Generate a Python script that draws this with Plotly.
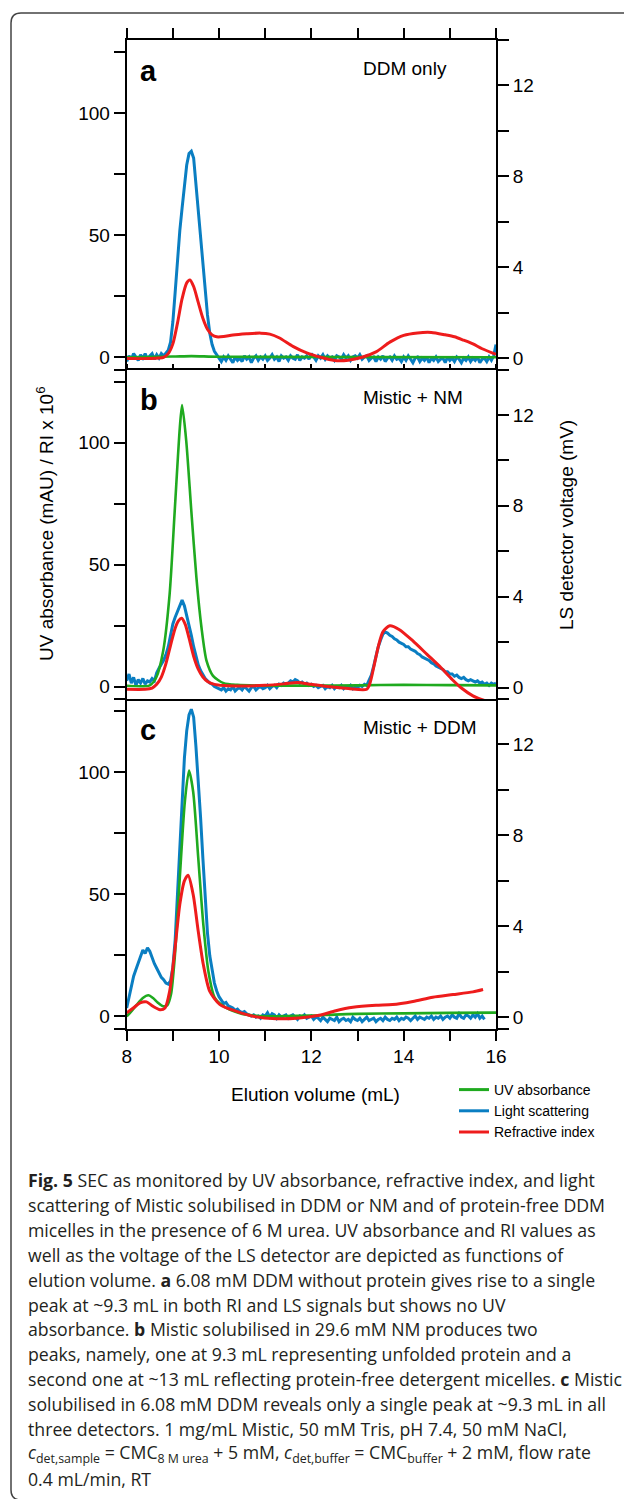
import numpy as np
import plotly.graph_objects as go

W, H = 624, 1499


def px(x):
    return x / W


def py(y):
    return 1 - y / H


# ---------------- axes / ticks ----------------
X_RANGE = [8, 16]
X_TICKS = [8, 10, 12, 14, 16]
X_MINOR = [9, 11, 13, 15]
UV_RANGE = [-5, 130]
UV_TICKS = [0, 50, 100]
UV_MINOR = [-5, 25, 75, 125]
LS_RANGE = [-0.5, 14]
LS_TICKS = [0, 4, 8, 12]
LS_MINOR = [-0.5, 2, 6, 10, 14]

SERIES_NAMES = ["UV absorbance", "Light scattering", "Refractive index"]
PANEL_LETTERS = ["a", "b", "c"]
PANEL_TITLES = ["DDM only", "Mistic + NM", "Mistic + DDM"]

# LS detector is sampled on a regular elution grid
LS_X0, LS_DX = 8.0, 0.05

# ---------------- panel a : DDM only ----------------
a_uv_x = [8.0, 9.0, 9.4, 10.0, 16.0]
a_uv_y = [0.0, 0.3, 0.5, 0.2, 0.0]
a_ri_x = [8.0, 8.5, 8.8, 8.9, 9.0, 9.1, 9.2, 9.3, 9.37, 9.45, 9.55, 9.65, 9.75,
          9.85, 9.95, 10.1, 10.3, 10.6, 10.9, 11.1, 11.3, 11.6, 11.9, 12.2, 12.5,
          12.8, 13.1, 13.4, 13.7, 14.0, 14.3, 14.6, 14.9, 15.1, 15.3, 15.5, 15.7, 16.0]
a_ri_y = [-0.5, -0.5, 0.0, 1.5, 5.5, 14, 24, 30.5, 31.7, 29, 22.5, 16, 11.5,
          9.2, 8.4, 8.5, 9.1, 9.6, 9.9, 9.5, 8.0, 4.5, 1.8, 0.0, -1.3,
          -1.2, 0.0, 2.2, 6.2, 9.0, 10.0, 10.2, 9.2, 8.4, 7.0, 5.5, 3.5, 1.2]
a_ls_y = [
    -0.15, 0.1, -0.05, 0.2, 0.05, -0.1, 0.15, 0.0, 0.2, -0.05,
    0.1, 0.2, -0.05, 0.15, 0.0, 0.2, 0.1, 0.25, 0.35, 0.7,
    1.6, 2.9, 4.4, 5.6, 6.6, 7.6, 8.5, 9.0, 9.1, 8.8,
    7.6, 6.4, 5.2, 4.0, 2.9, 1.9, 1.1, 0.6, 0.3, 0.15,
    0.0, -0.15, 0.05, -0.1, 0.1, -0.05, -0.2, 0.05, -0.1, 0.0,
    -0.15, 0.1, -0.05, 0.05, -0.2, 0.0, 0.1, -0.1, 0.05, -0.05,
    0.1, -0.1, 0.0, 0.15, -0.05, 0.05, -0.15, 0.1, 0.0, 0.05,
    -0.1, 0.1, 0.0, -0.05, 0.15, -0.1, 0.05, 0.0, 0.1, -0.05,
    0.2, 0.05, -0.1, 0.1, 0.0, 0.15, -0.05, 0.1, 0.0, 0.05,
    -0.1, 0.1, 0.05, -0.05, 0.15, 0.0, 0.1, -0.1, 0.05, 0.1,
    0.0, 0.15, -0.05, 0.05, 0.1, -0.1, 0.0, 0.05, -0.15, 0.05,
    -0.05, 0.1, -0.15, 0.0, 0.05, -0.1, 0.1, -0.05, 0.0, -0.15,
    0.05, -0.1, 0.1, -0.05, -0.2, 0.0, 0.05, -0.15, 0.0, -0.1,
    0.05, -0.2, 0.0, -0.1, 0.05, -0.15, -0.05, 0.0, -0.2, 0.05,
    -0.1, 0.0, -0.15, 0.05, -0.05, -0.2, 0.0, -0.1, 0.05, -0.15,
    0.0, -0.1, 0.05, -0.2, -0.05, 0.0, -0.15, 0.05, -0.1, 0.1,
    0.6]

# ---------------- panel b : Mistic + NM ----------------
b_uv_x = [8.0, 8.5, 8.64, 8.79, 8.93, 9.04, 9.15, 9.2, 9.29, 9.4, 9.51, 9.62,
          9.73, 9.87, 10.1, 10.4, 11.0, 12.0, 13.0, 14.0, 15.0, 16.0]
b_uv_y = [0.4, 0.6, 3.8, 14.7, 38, 72, 106, 115.4, 100.7, 72, 44.7, 24.3,
          10.6, 4.5, 1.5, 0.8, 0.5, 0.5, 0.6, 0.8, 0.7, 0.6]
b_ri_x = [8.0, 8.4, 8.55, 8.65, 8.75, 8.85, 8.95, 9.05, 9.12, 9.19, 9.27, 9.35,
          9.45, 9.55, 9.65, 9.75, 9.9, 10.1, 10.5, 11.0, 11.4, 11.7, 12.0, 12.4,
          12.8, 13.2, 13.27, 13.35, 13.45, 13.55, 13.7, 13.9, 14.2, 14.5, 14.8,
          15.05, 15.25, 15.5, 15.75, 16.0]
b_ri_y = [-1, -1, -0.5, 1.0, 4.0, 9.5, 17, 24, 27, 28.1, 25.5, 20,
          12.5, 7.2, 4.0, 2.2, 1.0, 0.5, 0.3, 0.6, 1.2, 1.8, 1.0, 0.0,
          -0.7, -1.0, 1.5, 7.9, 16.5, 22.5, 25, 23.5, 18.8, 13.4, 8.0,
          3.0, -0.5, -3.7, -5.6, -6.5]
b_ls_y = [
    0.3, 0.6, 0.2, 0.45, 0.1, 0.35, 0.2, 0.4, 0.15, 0.3,
    0.25, 0.4, 0.3, 0.65, 0.85, 1.0, 1.2, 1.45, 1.8, 2.3,
    2.8, 3.1, 3.35, 3.6, 3.85, 3.6, 3.2, 2.8, 2.3, 1.8,
    1.4, 1.0, 0.75, 0.55, 0.4, 0.3, 0.2, 0.15, 0.05, 0.0,
    -0.05, -0.1, 0.0, -0.15, -0.05, -0.1, 0.05, -0.15, -0.05, 0.0,
    -0.1, 0.05, -0.05, -0.15, 0.0, 0.05, -0.1, 0.0, 0.05, -0.05,
    0.0, 0.1, -0.05, 0.05, 0.1, 0.0, 0.15, 0.1, 0.2, 0.15,
    0.2, 0.3, 0.25, 0.35, 0.3, 0.2, 0.25, 0.15, 0.2, 0.1,
    0.15, 0.05, 0.1, 0.0, 0.05, 0.1, -0.05, 0.05, 0.0, 0.1,
    -0.05, 0.05, 0.0, 0.1, -0.05, 0.05, 0.0, 0.1, -0.05, 0.05,
    0.0, 0.1, 0.05, 0.15, 0.1, 0.3, 0.55, 0.95, 1.4, 1.8,
    2.1, 2.35, 2.45, 2.4, 2.3, 2.25, 2.15, 2.1, 2.0, 1.95,
    1.9, 1.8, 1.8, 1.7, 1.65, 1.6, 1.5, 1.45, 1.35, 1.3,
    1.25, 1.2, 1.1, 1.05, 0.95, 0.9, 0.85, 0.8, 0.7, 0.7,
    0.6, 0.6, 0.5, 0.55, 0.45, 0.4, 0.45, 0.35, 0.3, 0.35,
    0.3, 0.25, 0.3, 0.2, 0.25, 0.15, 0.2, 0.1, 0.2, 0.15,
    0.2]

# ---------------- panel c : Mistic + DDM ----------------
c_uv_x = [8.0, 8.1, 8.22, 8.35, 8.47, 8.57, 8.68, 8.79, 8.88, 8.96, 9.04, 9.15,
          9.26, 9.35, 9.44, 9.55, 9.66, 9.77, 9.91, 10.16, 10.5, 11.0, 12.0,
          12.5, 13.0, 14.0, 15.0, 16.0]
c_uv_y = [0.0, 2.0, 4.8, 7.5, 8.6, 7.5, 5.5, 4.1, 4.5, 9, 23.9, 56.7,
          88, 100.7, 92, 64.9, 37.6, 18.4, 7.5, 3.4, 1.0, 0.0, 0.3,
          0.7, 1.0, 1.2, 1.4, 1.5]
c_ri_x = [8.0, 8.15, 8.29, 8.43, 8.57, 8.72, 8.83, 8.93, 9.04, 9.15, 9.25, 9.33,
          9.44, 9.55, 9.66, 9.8, 10.02, 10.38, 10.74, 11.24, 11.74, 12.17, 12.53,
          12.9, 13.4, 13.76, 14.2, 14.63, 15.07, 15.5, 15.72]
c_ri_y = [1.4, 3.5, 5.5, 5.9, 4.1, 2.7, 3.4, 10.2, 26.6, 45.8, 55.5, 57.8,
          49.9, 34.8, 21.2, 10.2, 4.8, 2.0, 0.0, -1.0, -0.7, 0.4, 2.3,
          3.7, 4.5, 4.8, 6.1, 7.8, 8.9, 10.0, 11.0]
c_ls_y = [
    0.4, 0.9, 1.4, 1.8, 2.1, 2.4, 2.65, 2.95, 2.8, 3.05,
    2.9, 2.6, 2.35, 2.15, 1.95, 1.75, 1.65, 1.5, 1.45, 1.6,
    2.2, 3.4, 5.4, 7.6, 9.8, 11.4, 12.6, 13.3, 13.55, 13.2,
    11.9, 10.5, 8.8, 7.0, 5.2, 3.7, 2.7, 2.0, 1.5, 1.15,
    0.9, 0.75, 0.6, 0.65, 0.5, 0.45, 0.4, 0.3, 0.35, 0.25,
    0.2, 0.25, 0.15, 0.1, 0.05, 0.1, 0.0, 0.05, -0.05, 0.1,
    0.05, 0.2, 0.0, 0.15, 0.1, -0.05, 0.1, 0.0, 0.05, 0.1,
    -0.05, 0.05, 0.1, 0.0, -0.1, 0.05, 0.0, 0.1, -0.05, 0.0,
    0.05, -0.1, 0.0, -0.05, -0.15, 0.0, -0.1, -0.2, -0.05, -0.1,
    -0.15, 0.0, -0.2, -0.1, -0.05, -0.15, -0.1, -0.2, 0.0, -0.1,
    -0.15, -0.05, -0.2, -0.1, 0.0, -0.15, -0.1, -0.05, -0.2, -0.1,
    -0.05, -0.15, 0.0, -0.1, -0.15, -0.05, -0.1, 0.0, -0.15, -0.05,
    -0.1, 0.0, -0.05, -0.15, -0.05, 0.05, -0.1, 0.0, -0.05, -0.1,
    0.0, -0.05, 0.05, -0.1, 0.0, -0.05, 0.05, -0.1, 0.0, 0.05,
    -0.05, 0.1, 0.0, -0.05, 0.15, 0.0, -0.05, 0.1, 0.05, -0.05,
    0.1, 0.0, 0.15, -0.05, 0.05, -0.1]

CAPTION_LINES = [
    "<b>Fig. 5</b> SEC as monitored by UV absorbance, refractive index, and light",
    "scattering of Mistic solubilised in DDM or NM and of protein-free DDM",
    "micelles in the presence of 6 M urea. UV absorbance and RI values as",
    "well as the voltage of the LS detector are depicted as functions of",
    "elution volume. <b>a</b> 6.08 mM DDM without protein gives rise to a single",
    "peak at ~9.3 mL in both RI and LS signals but shows no UV",
    "absorbance. <b>b</b> Mistic solubilised in 29.6 mM NM produces two",
    "peaks, namely, one at 9.3 mL representing unfolded protein and a",
    "second one at ~13 mL reflecting protein-free detergent micelles. <b>c</b> Mistic",
    "solubilised in 6.08 mM DDM reveals only a single peak at ~9.3 mL in all",
    "three detectors. 1 mg/mL Mistic, 50 mM Tris, pH 7.4, 50 mM NaCl,",
    "<i>c</i><sub>det,sample</sub> = CMC<sub>8 M urea</sub> + 5 mM, <i>c</i><sub>det,buffer</sub> = CMC<sub>buffer</sub> + 2 mM, flow rate",
    "0.4 mL/min, RT",
]

# ---------------- styling ----------------
GREEN, BLUE, RED = "#1faa1f", "#0a7ec2", "#ee1c1c"
FONT = "Liberation Sans, Arial, Helvetica, sans-serif"
CAP_FONT = "Open Sans, Noto Sans, sans-serif"
PLOT_L, PLOT_R = 126.7, 496.0
PANEL_EDGES = [(40.0, 369.5), (369.5, 699.0), (699.0, 1028.5)]
TICKFONT = dict(family=FONT, size=19, color="black")

panels = [
    (a_uv_x, a_uv_y, a_ri_x, a_ri_y, a_ls_y),
    (b_uv_x, b_uv_y, b_ri_x, b_ri_y, b_ls_y),
    (c_uv_x, c_uv_y, c_ri_x, c_ri_y, c_ls_y),
]

fig = go.Figure()
layout = {}
annotations = []

for i, (uvx, uvy, rix, riy, lsy) in enumerate(panels):
    n = i + 1
    xname = "x" if n == 1 else f"x{n}"
    ls_ax = 2 * i + 1
    uv_ax = 2 * i + 2
    ls_name = "y" if ls_ax == 1 else f"y{ls_ax}"
    uv_name = f"y{uv_ax}"
    top, bot = PANEL_EDGES[i]
    dom = [py(bot), py(top)]
    show = (i == 0)

    ls_x = np.round(LS_X0 + LS_DX * np.arange(len(lsy)), 2)

    if show:
        fig.add_trace(go.Scatter(x=[None], y=[None], mode="lines", name=SERIES_NAMES[0],
                                 line=dict(color=GREEN, width=3),
                                 xaxis=xname, yaxis=uv_name, showlegend=True))
    fig.add_trace(go.Scatter(x=uvx, y=uvy, mode="lines", name=SERIES_NAMES[0],
                             line=dict(color=GREEN, width=2.6, shape="spline", smoothing=0.7),
                             xaxis=xname, yaxis=uv_name, showlegend=False))
    fig.add_trace(go.Scatter(x=ls_x, y=lsy, mode="lines", name=SERIES_NAMES[1],
                             line=dict(color=BLUE, width=3),
                             xaxis=xname, yaxis=ls_name, showlegend=show))
    fig.add_trace(go.Scatter(x=rix, y=riy, mode="lines", name=SERIES_NAMES[2],
                             line=dict(color=RED, width=3, shape="spline", smoothing=0.7),
                             xaxis=xname, yaxis=uv_name, showlegend=show))

    xkey = "xaxis" if n == 1 else f"xaxis{n}"
    xa = dict(domain=[px(PLOT_L), px(PLOT_R)], range=X_RANGE, anchor=ls_name,
              automargin=False,
              showgrid=False, zeroline=False, showline=True, linecolor="black",
              linewidth=2, tickvals=X_TICKS,
              tickcolor="black", tickwidth=2, tickfont=TICKFONT)
    if n == 1:
        xa.update(side="top", mirror=False, ticks="outside", ticklen=10,
                  showticklabels=False,
                  minor=dict(tickvals=X_MINOR, ticks="outside", ticklen=10,
                             tickwidth=2, tickcolor="black", showgrid=False))
    elif n == 2:
        xa.update(side="top", mirror=True, ticks="outside", ticklen=4,
                  showticklabels=False, matches="x",
                  minor=dict(tickvals=X_MINOR, ticks="outside", ticklen=4,
                             tickwidth=2, tickcolor="black", showgrid=False))
    else:
        xa.update(side="bottom", mirror=False, ticks="outside", ticklen=10,
                  showticklabels=True, matches="x",
                  minor=dict(tickvals=X_MINOR, ticks="outside", ticklen=10,
                             tickwidth=2, tickcolor="black", showgrid=False))
    layout[xkey] = xa

    ls_key = "yaxis" if ls_ax == 1 else f"yaxis{ls_ax}"
    layout[ls_key] = dict(domain=dom, range=LS_RANGE, anchor=xname, side="right",
                          automargin=False,
                          showgrid=False, zeroline=False, showline=True,
                          linecolor="black", linewidth=2, ticks="outside",
                          ticklen=11, tickwidth=2, tickcolor="black",
                          tickvals=LS_TICKS, tickfont=TICKFONT,
                          minor=dict(tickvals=LS_MINOR, ticks="outside", ticklen=11,
                                     tickwidth=2, tickcolor="black", showgrid=False))
    layout[f"yaxis{uv_ax}"] = dict(range=UV_RANGE, anchor=xname, overlaying=ls_name,
                                   side="left", automargin=False,
                                   showgrid=False, zeroline=False,
                                   showline=True, linecolor="black", linewidth=2,
                                   ticks="outside", ticklen=11, tickwidth=2,
                                   tickcolor="black", tickvals=UV_TICKS,
                                   tickfont=TICKFONT,
                                   minor=dict(tickvals=UV_MINOR, ticks="outside",
                                              ticklen=11, tickwidth=2,
                                              tickcolor="black", showgrid=False))

    # panel letter and title
    annotations.append(dict(text=f"<b>{PANEL_LETTERS[i]}</b>", xref="paper", yref="paper",
                            x=px(138), y=py(top + 31), xanchor="left", yanchor="middle",
                            showarrow=False,
                            font=dict(family=FONT, size=29, color="black")))
    annotations.append(dict(text=PANEL_TITLES[i], xref="paper", yref="paper",
                            x=px(361), y=py(top + 28), xanchor="left", yanchor="middle",
                            showarrow=False,
                            font=dict(family=FONT, size=19, color="black")))

# axis titles
annotations.append(dict(text="UV absorbance (mAU) / RI x 10<sup>6</sup>", xref="paper",
                        yref="paper", x=px(45), y=py(524), xanchor="center",
                        yanchor="middle", textangle=-90, showarrow=False,
                        font=dict(family=FONT, size=19, color="black")))
annotations.append(dict(text="LS detector voltage (mV)", xref="paper", yref="paper",
                        x=px(567), y=py(525), xanchor="center", yanchor="middle",
                        textangle=-90, showarrow=False,
                        font=dict(family=FONT, size=19, color="black")))
annotations.append(dict(text="Elution volume (mL)", xref="paper", yref="paper",
                        x=px(315), y=py(1094), xanchor="center", yanchor="middle",
                        showarrow=False,
                        font=dict(family=FONT, size=19, color="black")))

# caption
for k, line in enumerate(CAPTION_LINES):
    annotations.append(dict(text=line, xref="paper", yref="paper",
                            x=px(26), y=py(1180 + 24.9 * k), xanchor="left",
                            yanchor="middle", showarrow=False, align="left",
                            font=dict(family=CAP_FONT, size=17.7, color="#231f20")))

# rounded frame (left/top/bottom visible)
r = 10
fx0, fy0, fy1, fx1 = 11, 13, 1500, 640
path = (f"M {px(fx1)},{py(fy0)} L {px(fx0 + r)},{py(fy0)} "
        f"Q {px(fx0)},{py(fy0)} {px(fx0)},{py(fy0 + r)} "
        f"L {px(fx0)},{py(fy1 - r)} Q {px(fx0)},{py(fy1)} {px(fx0 + r)},{py(fy1)} "
        f"L {px(fx1)},{py(fy1)}")
shapes = [dict(type="path", xref="paper", yref="paper", path=path,
               line=dict(color="#444444", width=1.5))]

fig.update_layout(
    width=W, height=H,
    margin=dict(l=0, r=0, t=0, b=0, autoexpand=False),
    paper_bgcolor="white", plot_bgcolor="rgba(0,0,0,0)",
    showlegend=True,
    legend=dict(x=px(454), y=py(1074), xanchor="left", yanchor="top",
                font=dict(family=FONT, size=14, color="black"),
                bgcolor="rgba(0,0,0,0)", tracegroupgap=0, itemwidth=30,
                traceorder="normal"),
    annotations=annotations,
    shapes=shapes,
    **layout,
)

fig.write_html(
    "out.html",
    config={"displayModeBar": False},
    post_script="document.body.style.margin='0px';document.body.style.overflow='hidden';",
)
